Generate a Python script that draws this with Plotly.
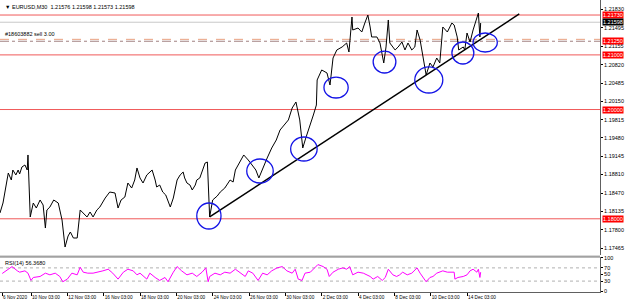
import plotly.graph_objects as go

# ---------------- data (x = trading hours since 6 Nov 2020 00:00, weekends removed) ----------------
price_hours = [10, 14, 21, 25, 27, 31, 34, 36, 39, 43, 46, 47, 50, 54, 58, 63, 67, 70, 72, 76, 81, 87,
               92, 96, 100, 103, 107, 112, 116, 121, 125, 129, 133, 138, 142, 149, 155, 162, 166, 170,
               175, 179, 184, 188, 191, 195, 199, 204, 208, 211, 215, 217, 221, 225, 229, 235, 239, 241,
               244, 248, 252, 254, 257, 261, 264, 268, 270, 274, 278, 281, 284, 286, 287, 291, 297, 301,
               307, 314, 318, 321, 327, 332, 338, 343, 348, 352, 357, 363, 369, 375, 380, 385, 391, 396,
               401, 406, 410, 414, 420, 424, 428, 429, 435, 442, 446, 450, 455, 462, 468, 471, 475, 476,
               483, 488, 492, 496, 499, 501, 508, 512, 517, 520, 523, 525, 532, 536, 541, 545, 549, 554,
               558, 561, 565, 569, 573, 578, 582, 587, 591, 595, 601, 607, 610, 614, 616, 622, 624, 627,
               631, 635, 639, 642, 643, 644, 645]
price_values = [1.18106, 1.18289, 1.18838, 1.18710, 1.18893, 1.18802, 1.18893, 1.18820, 1.18948, 1.18985,
                1.18893, 1.19168, 1.18033, 1.18289, 1.18197, 1.18344, 1.18252, 1.17831, 1.18161, 1.18216,
                1.18344, 1.18289, 1.17978, 1.17483, 1.17685, 1.17758, 1.17648, 1.17648, 1.18161, 1.18087,
                1.18033, 1.18124, 1.18033, 1.18161, 1.18216, 1.18380, 1.18490, 1.18472, 1.18197, 1.18344,
                1.18399, 1.18655, 1.18563, 1.18710, 1.18930, 1.18747, 1.18655, 1.18802, 1.18856, 1.18893,
                1.18710, 1.18582, 1.18618, 1.18490, 1.18435, 1.18216, 1.18380, 1.18490, 1.18710, 1.18802,
                1.18856, 1.18747, 1.18655, 1.18618, 1.18527, 1.18618, 1.18710, 1.18747, 1.18893, 1.19021,
                1.19039, 1.18527, 1.18033, 1.18344, 1.18417, 1.18490, 1.18563, 1.18710, 1.18673, 1.18893,
                1.19039, 1.19168, 1.19076, 1.18985, 1.18893, 1.18747, 1.18930, 1.19113, 1.19296, 1.19442,
                1.19625, 1.19717, 1.19809, 1.20028, 1.20138, 1.19809, 1.19296, 1.19479, 1.19717, 1.19900,
                1.20083, 1.20541, 1.20724, 1.20669, 1.20449, 1.20943, 1.21090, 1.21145, 1.21218, 1.21053,
                1.21694, 1.21456, 1.21492, 1.21419, 1.21584, 1.21730, 1.21511, 1.21328, 1.21328, 1.21218,
                1.20852, 1.21145, 1.21639, 1.21218, 1.21090, 1.21145, 1.21236, 1.21090, 1.21218, 1.21090,
                1.21145, 1.21456, 1.21273, 1.20943, 1.20632, 1.20852, 1.20779, 1.20943, 1.20852, 1.21511,
                1.21419, 1.21584, 1.21547, 1.21328, 1.21090, 1.21145, 1.21090, 1.21401, 1.21236, 1.21456,
                1.21639, 1.21767, 1.21547, 1.21328, 1.21584]

rsi_hours = [13, 21, 26, 33, 36, 43, 47, 51, 54, 63, 70, 76, 83, 89, 93, 99, 105, 112, 116, 120, 126, 133,
             140, 146, 153, 159, 166, 173, 179, 186, 191, 195, 204, 208, 215, 221, 228, 232, 239, 244, 250,
             257, 264, 270, 277, 282, 285, 287, 294, 301, 307, 314, 321, 327, 334, 338, 344, 351, 357, 363,
             369, 376, 383, 389, 396, 400, 404, 409, 413, 420, 426, 430, 437, 442, 445, 450, 457, 463, 468,
             472, 476, 483, 490, 495, 499, 503, 509, 515, 519, 523, 529, 534, 538, 542, 548, 554, 561, 565,
             569, 573, 578, 582, 587, 591, 595, 601, 607, 610, 611, 615, 622, 627, 631, 635, 640, 642, 644,
             645]
rsi_values = [53, 66, 74, 61, 57, 61, 54, 32, 41, 44, 54, 49, 54, 44, 28, 36, 54, 49, 72, 57, 54, 54,
              57, 61, 66, 54, 36, 57, 66, 61, 49, 54, 36, 54, 41, 32, 41, 28, 57, 74, 61,
              49, 54, 44, 57, 70, 28, 44, 54, 49, 57, 54, 66, 57, 44, 61, 54, 32, 54, 49,
              61, 70, 74, 61, 54, 66, 36, 32, 54, 57, 70, 80, 74, 66, 44, 57, 66, 70, 66,
              74, 49, 57, 54, 49, 44, 36, 44, 32, 41, 66, 49, 44, 49, 57, 49, 54, 70, 54,
              41, 28, 41, 44, 54, 57, 61, 57, 57, 57, 36, 41, 44, 49, 61, 66, 57, 66, 41,
              57]

x_tick_hours = [12.7, 51, 99, 147, 195, 243, 291, 339, 387, 435, 483, 531, 579, 627]
x_tick_labels = ["6 Nov 2020", "10 Nov 03:00", "12 Nov 03:00", "16 Nov 03:00", "18 Nov 03:00",
                 "20 Nov 03:00", "24 Nov 03:00", "26 Nov 03:00", "30 Nov 03:00", "2 Dec 03:00",
                 "4 Dec 03:00", "8 Dec 03:00", "10 Dec 03:00", "14 Dec 03:00"]

price_ticks = [1.17465, 1.17800, 1.18135, 1.18470, 1.18810, 1.19145, 1.19480, 1.19815,
               1.20150, 1.20485, 1.20820, 1.21155, 1.21495, 1.21830]

level_prices = [1.21730, 1.21000, 1.20000, 1.18000]
level_labels = ["1.21730", "1.21000", "1.20000", "1.18000"]
order_price = 1.21250
order_label = "1.21250"
order_text = "#18603882 sell 3.00"
order_sl_price = 1.21285
current_price = 1.21598
current_label = "1.21598"

trend_hours = [287, 696]
trend_prices = [1.18033, 1.21749]

# ellipses: hour0, hour1, price_low, price_high
ell_h0 = [270, 336, 394, 438, 503, 558, 607, 635]
ell_h1 = [302, 371, 429, 470, 533, 595, 636, 667]
ell_p0 = [1.17813, 1.18655, 1.19058, 1.20211, 1.20669, 1.20303, 1.20833, 1.21053]
ell_p1 = [1.18289, 1.19094, 1.19497, 1.20595, 1.21069, 1.20779, 1.21236, 1.21401]

rsi_levels = [30, 70]
rsi_ticks = [0, 30, 50, 70, 100]
rsi_tick_labels = ["0", "30", "50", "70", "100"]

title_text = "\u25bc EURUSD,M30  1.21576 1.21598 1.21573 1.21598"
rsi_text = "RSI(14) 56.3680"

# ---------------- figure ----------------
FONT = "Liberation Sans"
fs = 5.5
fs_x = 4.7

fig = go.Figure()
fig.add_trace(go.Scatter(x=price_hours, y=price_values, mode="lines",
                         line=dict(color="black", width=1), xaxis="x", yaxis="y",
                         hoverinfo="skip", showlegend=False))
fig.add_trace(go.Scatter(x=rsi_hours, y=rsi_values, mode="lines",
                         line=dict(color="#ff00ff", width=1), xaxis="x", yaxis="y2",
                         hoverinfo="skip", showlegend=False))

shapes = []
for p in level_prices:
    shapes.append(dict(type="line", xref="paper", x0=0, x1=1, yref="y", y0=p, y1=p,
                       line=dict(color="#f05a5a", width=1), layer="below"))
shapes.append(dict(type="line", xref="paper", x0=0, x1=1, yref="y", y0=current_price, y1=current_price,
                   line=dict(color="#c8c8c8", width=1), layer="below"))
shapes.append(dict(type="line", xref="paper", x0=0, x1=1, yref="y", y0=order_sl_price, y1=order_sl_price,
                   line=dict(color="#e8a080", width=1, dash="dash"), layer="below"))
shapes.append(dict(type="line", xref="paper", x0=0, x1=1, yref="y", y0=order_price, y1=order_price,
                   line=dict(color="#a08080", width=1, dash="dashdot"), layer="below"))
shapes.append(dict(type="line", xref="x", yref="y", x0=trend_hours[0], x1=trend_hours[1],
                   y0=trend_prices[0], y1=trend_prices[1], line=dict(color="black", width=1.5)))
for a, b, c, d in zip(ell_h0, ell_h1, ell_p0, ell_p1):
    shapes.append(dict(type="circle", xref="x", yref="y", x0=a, x1=b, y0=c, y1=d,
                       line=dict(color="#1414e6", width=1.3)))
for lv in rsi_levels:
    shapes.append(dict(type="line", xref="paper", x0=0, x1=1, yref="y2", y0=lv, y1=lv,
                       line=dict(color="#b0b0b0", width=1, dash="dot"), layer="below"))
shapes.append(dict(type="rect", xref="paper", yref="paper", x0=0, x1=1, y0=0.1199, y1=0.1267,
                   fillcolor="#d8d8d8", line=dict(width=0)))
shapes.append(dict(type="line", xref="paper", yref="paper", x0=0, x1=1, y0=0.1199, y1=0.1199,
                   line=dict(color="#707070", width=1)))

annotations = []
for p, t in zip(level_prices, level_labels):
    annotations.append(dict(xref="paper", x=1, xanchor="left", xshift=2, yref="y", y=p, text=t,
                            showarrow=False, bgcolor="#ff0000", borderpad=0,
                            font=dict(family=FONT, size=fs, color="white")))
annotations.append(dict(xref="paper", x=1, xanchor="left", xshift=2, yref="y", y=order_price, text=order_label,
                        showarrow=False, bgcolor="#ff0000", borderpad=0,
                        font=dict(family=FONT, size=fs, color="white")))
annotations.append(dict(xref="paper", x=1, xanchor="left", xshift=2, yref="y", y=current_price, text=current_label,
                        showarrow=False, bgcolor="#000000", borderpad=0,
                        font=dict(family=FONT, size=fs, color="white")))
annotations.append(dict(xref="paper", x=0, xanchor="left", xshift=3, yref="paper", y=1, yanchor="top", yshift=-2,
                        text=title_text, showarrow=False, font=dict(family=FONT, size=fs, color="black")))
annotations.append(dict(xref="paper", x=0, xanchor="left", xshift=3, yref="y", y=order_sl_price, yanchor="bottom",
                        text=order_text, showarrow=False, font=dict(family=FONT, size=fs, color="black")))
annotations.append(dict(xref="paper", x=0, xanchor="left", xshift=3, yref="paper", y=0.1199, yanchor="top",
                        yshift=-1, text=rsi_text, showarrow=False, font=dict(family=FONT, size=fs, color="black")))

fig.update_layout(
    width=625, height=303,
    margin=dict(l=0, r=25, t=0, b=11, autoexpand=False),
    paper_bgcolor="white", plot_bgcolor="white",
    font=dict(family=FONT, size=fs, color="black"),
    showlegend=False,
    xaxis=dict(domain=[0, 1], range=[10.05, 802.65], anchor="y2",
               tickvals=x_tick_hours, ticktext=x_tick_labels, tickangle=0,
               ticks="outside", ticklen=3, tickcolor="black", tickwidth=1,
               ticklabelposition="outside right",
               showgrid=False, zeroline=False, showline=True, linecolor="#606060", linewidth=1,
               tickfont=dict(family=FONT, size=fs_x)),
    yaxis=dict(domain=[0.1267, 1], range=[1.17337, 1.22005], side="right",
               tickvals=price_ticks, ticktext=[f"{v:.5f}" for v in price_ticks],
               ticks="outside", ticklen=2, tickcolor="black",
               showgrid=False, zeroline=False, showline=True, linecolor="#606060", linewidth=1,
               tickfont=dict(family=FONT, size=fs)),
    yaxis2=dict(domain=[0, 0.1199], range=[-3, 103], side="right", anchor="x",
                tickvals=rsi_ticks, ticktext=rsi_tick_labels,
                ticks="outside", ticklen=2, tickcolor="black",
                showgrid=False, zeroline=False, showline=True, linecolor="#606060", linewidth=1,
                tickfont=dict(family=FONT, size=fs)),
    shapes=shapes, annotations=annotations,
)

fig.write_html("out.html")
